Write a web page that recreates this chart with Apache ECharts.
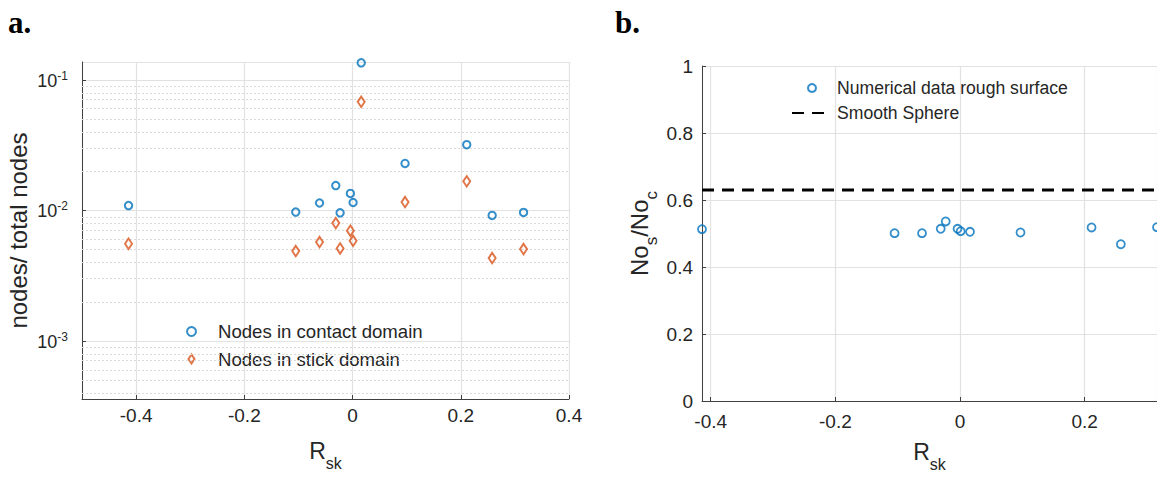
<!DOCTYPE html>
<html>
<head>
<meta charset="utf-8">
<script src="https://cdn.jsdelivr.net/npm/echarts@6/dist/echarts.min.js"></script>
<style>
html,body{margin:0;padding:0;background:#fff;}
#c{width:1157px;height:477px;}
</style>
</head>
<body>
<div id="c"></div>
<script>
// ---- data ----
const rsk = [-0.414, -0.105, -0.061, -0.031, -0.023, -0.004, 0.001, 0.016, 0.097, 0.211, 0.258, 0.316];
const contactFrac = [0.0109, 0.00972, 0.0114, 0.0155, 0.00959, 0.0135, 0.0115, 0.135, 0.0229, 0.0319, 0.00916, 0.00966];
const stickFrac = [0.00556, 0.00489, 0.00573, 0.0080, 0.00512, 0.0070, 0.00586, 0.0679, 0.0116, 0.0167, 0.00432, 0.00506];
const ratioRough = [0.513, 0.501, 0.501, 0.514, 0.536, 0.514, 0.507, 0.505, 0.503, 0.518, 0.468, 0.519];
const smoothSphere = 0.63;
const leftYRange = [3.6e-4, 0.137];
const leftXRange = [-0.5, 0.4];
const minorMultipliers = [2, 3, 4, 5, 6, 7, 8, 9];
const decades = [1e-4, 1e-3, 1e-2];
const seriesNames = ['Nodes in contact domain', 'Nodes in stick domain', 'Numerical data rough surface', 'Smooth Sphere'];

// minor (dotted) grid positions of the log axis, expressed in decades
const minorTicksLog = [];
decades.forEach(d => minorMultipliers.forEach(m => {
  const v = d * m;
  if (v > leftYRange[0] && v < leftYRange[1]) minorTicksLog.push(Math.log10(v));
}));

const BLUE = '#0072BD', ORANGE = '#D95319', TXT = '#262626', AX = '#404040';
const FONT = '"Liberation Sans", Arial, sans-serif';
const diamondPath = 'path://M0,-15L10,0L0,15L-10,0Z';

const chart = echarts.init(document.getElementById('c'), null, {renderer: 'svg'});

const gridLine = {show: true, lineStyle: {color: '#e2e2e2', width: 1.2}};
const serif = '"Liberation Serif", "Times New Roman", serif';

const option = {
  animation: false,
  backgroundColor: '#fff',
  textStyle: {fontFamily: FONT},
  title: [
    {text: 'a.', left: 8, top: 7, padding: 0, textStyle: {fontFamily: serif, fontWeight: 'bold', fontSize: 31, color: '#000'}},
    {text: 'b.', left: 615, top: 7, padding: 0, textStyle: {fontFamily: serif, fontWeight: 'bold', fontSize: 31, color: '#000'}}
  ],
  grid: [
    {left: 82, top: 62, width: 487, height: 337},
    {left: 702, top: 66, width: 456, height: 336}
  ],
  legend: [
    {
      orient: 'vertical', left: 186, top: 322, padding: 0,
      itemWidth: 43, itemHeight: 9, itemGap: 8.5,
      textStyle: {fontSize: 18.6, color: TXT, fontFamily: FONT},
      data: [seriesNames[0], seriesNames[1]]
    },
    {
      orient: 'vertical', left: 791, top: 79, padding: 0,
      itemWidth: 40, itemHeight: 8, itemGap: 7,
      textStyle: {fontSize: 17.6, color: TXT, fontFamily: FONT},
      data: [seriesNames[2], {name: seriesNames[3], itemStyle: {opacity: 0}}]
    }
  ],
  xAxis: [
    {
      gridIndex: 0, type: 'value', min: leftXRange[0], max: leftXRange[1], splitNumber: 5,
      axisLine: {show: true, onZero: false, lineStyle: {color: AX, width: 1}},
      axisTick: {show: true, inside: true, length: 4, lineStyle: {color: AX}},
      axisLabel: {fontSize: 19, color: TXT, margin: 7, showMinLabel: false, fontFamily: FONT},
      splitLine: gridLine,
      name: '{r|R}{s|sk}', nameLocation: 'middle', nameGap: 32,
      nameTextStyle: {color: TXT, fontFamily: FONT, rich: {
        r: {fontSize: 23, color: TXT, fontFamily: FONT},
        s: {fontSize: 16, color: TXT, fontFamily: FONT, verticalAlign: 'bottom', padding: [24, 0, 0, 0]}
      }}
    },
    {
      gridIndex: 1, type: 'value', min: Math.min(...rsk), max: Math.max(...rsk), splitNumber: 4,
      axisLine: {show: true, onZero: false, lineStyle: {color: AX, width: 1}},
      axisTick: {show: true, inside: true, length: 4, lineStyle: {color: AX}},
      axisLabel: {fontSize: 19, color: TXT, margin: 11, showMinLabel: false, showMaxLabel: false, fontFamily: FONT},
      splitLine: gridLine,
      name: '{r|R}{s|sk}', nameLocation: 'middle', nameGap: 31,
      nameTextStyle: {color: TXT, fontFamily: FONT, rich: {
        r: {fontSize: 23, color: TXT, fontFamily: FONT},
        s: {fontSize: 16, color: TXT, fontFamily: FONT, verticalAlign: 'bottom', padding: [24, 0, 0, 0]}
      }}
    }
  ],
  yAxis: [
    {
      gridIndex: 0, type: 'log', logBase: 10, min: leftYRange[0], max: leftYRange[1],
      axisLine: {show: true, onZero: false, lineStyle: {color: AX, width: 1}},
      axisTick: {show: true, inside: true, length: 4, lineStyle: {color: AX}},
      axisLabel: {
        margin: 14, showMinLabel: false, showMaxLabel: false,
        formatter: v => '{b|10}{s|' + Math.round(Math.log10(v)) + '}',
        rich: {
          b: {fontSize: 18, color: TXT, fontFamily: FONT, verticalAlign: 'bottom'},
          s: {fontSize: 12, color: TXT, fontFamily: FONT, verticalAlign: 'top'}
        },
        lineHeight: 20
      },
      splitLine: gridLine,
      name: 'nodes/ total nodes', nameLocation: 'middle', nameGap: 52,
      nameTextStyle: {fontSize: 24, color: TXT, fontFamily: FONT}
    },
    {
      gridIndex: 1, type: 'value', min: 0, max: 1, interval: 0.2,
      axisLine: {show: true, onZero: false, lineStyle: {color: AX, width: 1}},
      axisTick: {show: true, inside: true, length: 4, lineStyle: {color: AX}},
      axisLabel: {fontSize: 19, color: TXT, margin: 9, fontFamily: FONT},
      splitLine: gridLine,
      name: '{a|No}{b|s}{a|/No}{b|c}', nameLocation: 'middle', nameGap: 42,
      nameTextStyle: {color: TXT, fontFamily: FONT, rich: {
        a: {fontSize: 24, color: TXT, fontFamily: FONT},
        b: {fontSize: 17, color: TXT, fontFamily: FONT, verticalAlign: 'bottom', padding: [24, 0, 0, 0]}
      }}
    },
    {
      // hidden helper axis in decades, same span as the log axis, used for the dotted minor grid
      gridIndex: 0, type: 'value', min: Math.log10(leftYRange[0]), max: Math.log10(leftYRange[1]),
      show: false, splitLine: {show: false}
    }
  ],
  series: [
    {
      name: 'minor-grid', type: 'scatter', xAxisIndex: 0, yAxisIndex: 2, data: [], silent: true, z: 1,
      markLine: {
        silent: true, symbol: ['none', 'none'], animation: false,
        label: {show: false},
        lineStyle: {color: '#dadada', width: 1, type: [2, 2]},
        emphasis: {disabled: true},
        data: minorTicksLog.map(v => ({yAxis: v}))
      }
    },
    {
      name: seriesNames[0], type: 'scatter', xAxisIndex: 0, yAxisIndex: 0,
      data: rsk.map((x, i) => [x, contactFrac[i]]),
      symbol: 'circle', symbolSize: 7.4, z: 5,
      itemStyle: {color: 'rgba(255,255,255,0)', borderColor: BLUE, borderWidth: 2}
    },
    {
      name: seriesNames[1], type: 'scatter', xAxisIndex: 0, yAxisIndex: 0,
      data: rsk.map((x, i) => [x, stickFrac[i]]),
      symbol: diamondPath, symbolSize: [7, 10.5], z: 5,
      itemStyle: {color: 'rgba(255,255,255,0)', borderColor: ORANGE, borderWidth: 2}
    },
    {
      name: seriesNames[2], type: 'scatter', xAxisIndex: 1, yAxisIndex: 1,
      data: rsk.map((x, i) => [x, ratioRough[i]]),
      symbol: 'circle', symbolSize: 8, z: 5, clip: false,
      itemStyle: {color: 'rgba(255,255,255,0)', borderColor: BLUE, borderWidth: 1.8}
    },
    {
      name: seriesNames[3], type: 'line', xAxisIndex: 1, yAxisIndex: 1,
      data: [[Math.min(...rsk), smoothSphere], [Math.max(...rsk), smoothSphere]],
      symbol: 'none', showSymbol: false, z: 4,
      lineStyle: {color: '#000', width: 3, type: [12, 8]},
      itemStyle: {color: '#000'}
    }
  ]
};
chart.setOption(option);
</script>
</body>
</html>
